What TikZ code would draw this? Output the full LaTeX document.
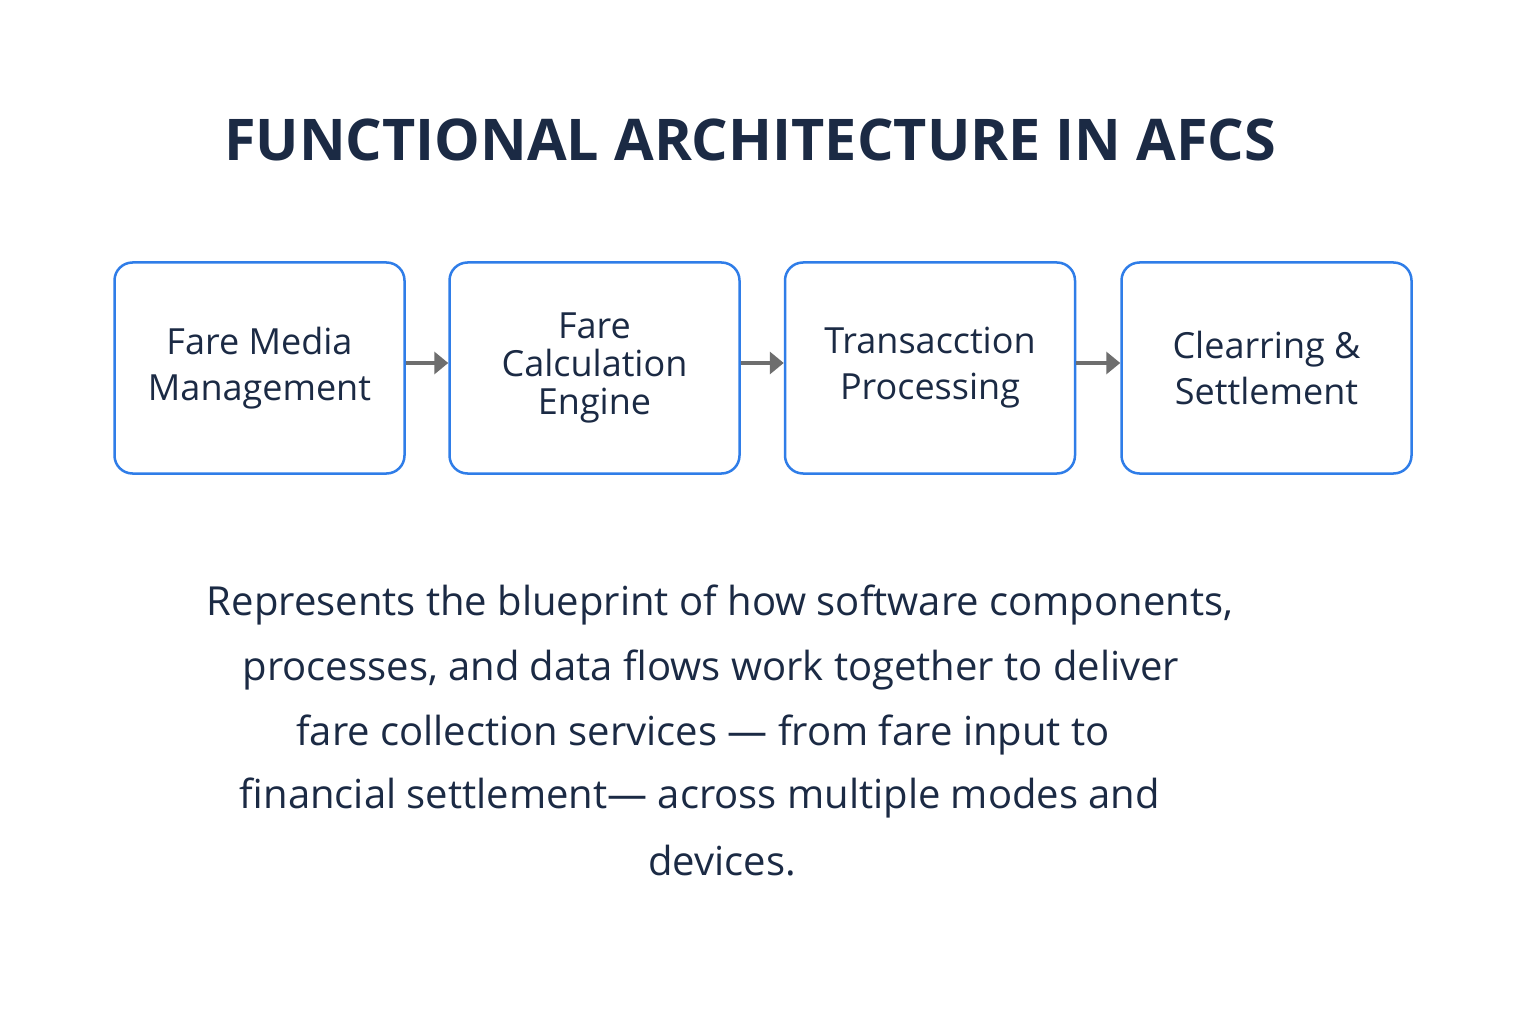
\documentclass[tikz,border=0pt]{standalone}
\usepackage{fontspec}
\setmainfont{Open Sans}
\usetikzlibrary{arrows.meta}
\definecolor{navy}{HTML}{1B2A44}
\definecolor{bblue}{HTML}{2F7DE8}
\definecolor{agray}{HTML}{6E6E6E}
\begin{document}
\begin{tikzpicture}[x=1pt,y=-1pt,
  box/.style={draw=bblue,line width=2.5pt,rounded corners=18pt,fill=white,minimum width=290pt,minimum height=211pt,align=center,text=navy,font=\fontsize{36}{46}\selectfont},
  arr/.style={draw=agray,line width=4pt,-{Triangle[length=14pt,width=22pt]}},
  para/.style={text=navy,font=\fontsize{40}{48}\selectfont}]
\useasboundingbox[fill=white] (0,0) rectangle (1536,1024);
\node[text=navy,font=\bfseries\fontsize{57.5}{64}\selectfont] (title) at (750,140) {FUNCTIONAL ARCHITECTURE IN AFCS};
\node[box] (b1) at (259.5,368) {Fare Media\\Management};
\node[box] (b2) at (594.5,368) {Fare\\[-8pt]Calculation\\[-8pt]Engine};
\node[box] (b3) at (930,368) {Transacction\\Processing};
\node[box] (b4) at (1266.5,368) {Clearring \&\\Settlement};
\draw[arr] (b1.east|-0,363) -- (b2.west|-0,363);
\draw[arr] (b2.east|-0,363) -- (b3.west|-0,363);
\draw[arr] (b3.east|-0,363) -- (b4.west|-0,363);
\node[para] (p1) at (720,605) {Represents the blueprint of how software components,};
\node[para] (p2) at (711,670) {processes, and data flows work together to deliver};
\node[para] (p3) at (703,735) {fare collection services — from fare input to};
\node[para] (p4) at (700,798) {financial settlement— across multiple modes and};
\node[para] (p5) at (722,861) {devices.};
\end{tikzpicture}
\end{document}
